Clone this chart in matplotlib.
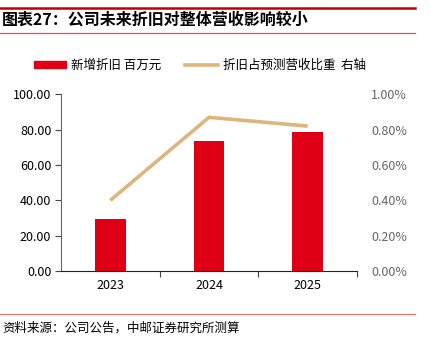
import numpy as np
import matplotlib.pyplot as plt
from matplotlib.lines import Line2D
from matplotlib.patches import Patch

plt.rcParams['font.family'] = ['Noto Sans CJK SC', 'DejaVu Sans']

years = ['2023', '2024', '2025']
depr = [29.4, 73.6, 78.8]          # 新增折旧 百万元
ratio = [0.40, 0.87, 0.82]         # 折旧占预测营收比重 (%)
left_ticks = [0, 20, 40, 60, 80, 100]
right_ticks = [0.0, 0.2, 0.4, 0.6, 0.8, 1.0]

bar_color = '#E00016'
line_color = '#DDB57F'

fig = plt.figure(figsize=(4.3, 3.4), dpi=100)
ax = fig.add_axes([0.1419, 0.2029, 0.6884, 0.5197])
x = np.arange(len(years))
ax.bar(x, depr, width=0.31, color=bar_color, zorder=2)
ax.set_xlim(-0.5, 2.5)
ax.set_ylim(0, 100)
ax.set_yticks(left_ticks)
ax.set_yticklabels(['%.2f' % v for v in left_ticks], fontsize=9)
ax.set_xticks([0.5, 1.5, 2.5], minor=False)
ax.set_xticklabels([])
ax.set_xticks(x, minor=True)
ax.set_xticklabels(years, minor=True, fontsize=9)
ax.tick_params(axis='x', which='minor', length=0, pad=6)
ax.tick_params(axis='x', which='major', length=4, direction='out', color='#444444')
ax.tick_params(axis='y', length=4, direction='out', color='#444444', pad=3)
for s in ['top', 'right']:
    ax.spines[s].set_visible(False)
ax.spines['left'].set_color('#666666')
ax.spines['bottom'].set_color('#222222')

ax2 = ax.twinx()
ax2.plot(x, ratio, color=line_color, lw=2.6, solid_capstyle='butt', zorder=3)
ax2.set_ylim(0, 1.0)
ax2.set_yticks(right_ticks)
ax2.set_yticklabels(['%.2f%%' % v for v in right_ticks], fontsize=9, color='#666666')
ax2.tick_params(axis='y', length=0, pad=10)
for s in ['top', 'right', 'left', 'bottom']:
    ax2.spines[s].set_visible(False)

# legend
handles = [Patch(color=bar_color), Line2D([0], [0], color=line_color, lw=2.6)]
fig.legend(handles, ['新增折旧 百万元', '折旧占预测营收比重  右轴'],
           loc='center left', bbox_to_anchor=(0.052, 0.808), ncol=2, frameon=False,
           fontsize=9, handlelength=2.6, handleheight=0.5, columnspacing=1.9,
           handletextpad=0.4)

# title / source decorations
fig.add_artist(Line2D([0.0, 0.965], [1 - 7.5 / 340] * 2, color='#C00000', lw=1.8))
fig.add_artist(Line2D([0.0, 0.965], [1 - 32.5 / 340] * 2, color='#D9534F', lw=0.9))
fig.text(0.005, 1 - 20 / 340, '图表27：公司未来折旧对整体营收影响较小', fontsize=11.5,
         fontweight='bold', va='center', ha='left')
fig.add_artist(Line2D([0.0, 0.965], [1 - 313.5 / 340] * 2, color='#E07070', lw=0.9))
fig.text(0.005, 1 - 328 / 340, '资料来源：公司公告，中邮证券研究所测算', fontsize=9,
         va='center', ha='left')

fig.savefig('out.png', dpi=100)
